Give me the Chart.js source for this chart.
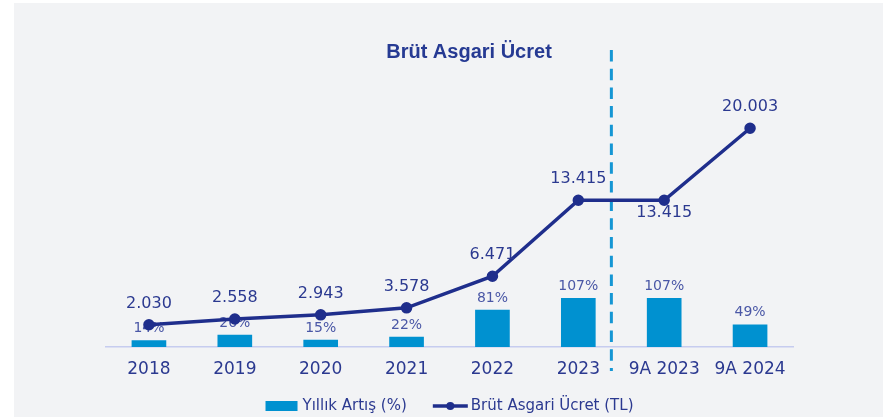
<!DOCTYPE html>
<html>
<head>
<meta charset="utf-8">
<script src="https://cdn.jsdelivr.net/npm/chart.js@4/dist/chart.umd.min.js"></script>
<style>
  html, body { margin: 0; padding: 0; background: #ffffff; }
  #wrap { position: relative; width: 886px; height: 417px; overflow: hidden; }
  #panel { position: absolute; left: 14px; top: 3px; width: 869px; height: 414px; background: #f2f3f5; }
  #c { position: absolute; left: 0; top: 0; }
</style>
</head>
<body>
<div id="wrap">
  <div id="panel"></div>
  <canvas id="c" width="886" height="417"></canvas>
</div>
<script>
const categories = ['2018', '2019', '2020', '2021', '2022', '2023', '9A 2023', '9A 2024'];
const wageTL = [2030, 2558, 2943, 3578, 6471, 13415, 13415, 20003];
const yearlyIncrease = [14, 26, 15, 22, 81, 107, 107, 49];
const seriesNames = ['Yıllık Artış (%)', 'Brüt Asgari Ücret (TL)'];
const chartTitle = 'Brüt Asgari Ücret';

const BAR_COLOR = '#0091d0';
const LINE_COLOR = '#1f2e8c';
const TEXT_DARK = '#2b3990';
const TEXT_LIGHT = '#4a57a6';
const FONT = '"DejaVu Sans", sans-serif';

function fmtTR(n) {
  return String(n).replace(/\B(?=(\d{3})+(?!\d))/g, '.');
}

const overlay = {
  id: 'overlay',
  beforeDatasetsDraw(chart) {
    const ctx = chart.ctx;
    const xs = chart.scales.x;
    const a = xs.getPixelForValue(5), b = xs.getPixelForValue(6);
    const px = a + (b - a) * 0.385;
    ctx.save();
    ctx.strokeStyle = '#1596d4';
    ctx.lineWidth = 3;
    ctx.setLineDash([11.5, 7.2]);
    ctx.beginPath();
    ctx.moveTo(px, 50);
    ctx.lineTo(px, 371);
    ctx.stroke();
    ctx.restore();
  },
  afterDatasetDraw(chart, args) {
    if (args.index !== 0) return;
    const ctx = chart.ctx;
    ctx.save();
    ctx.font = '14px ' + FONT;
    ctx.fillStyle = TEXT_LIGHT;
    ctx.textAlign = 'center';
    ctx.textBaseline = 'middle';
    args.meta.data.forEach((el, i) => {
      ctx.fillText(yearlyIncrease[i] + '%', el.x, el.y - 12);
    });
    ctx.restore();
  },
  afterDatasetsDraw(chart) {
    const ctx = chart.ctx;
    const meta = chart.getDatasetMeta(1);
    ctx.save();
    ctx.font = '16px ' + FONT;
    ctx.fillStyle = TEXT_DARK;
    ctx.textAlign = 'center';
    ctx.textBaseline = 'middle';
    meta.data.forEach((pt, i) => {
      const below = (i === 6);
      ctx.fillText(fmtTR(wageTL[i]), pt.x, below ? pt.y + 13 : pt.y - 21);
    });
    ctx.restore();
  },
  afterDraw(chart) {
    const ctx = chart.ctx;
    const ca = chart.chartArea;
    ctx.save();
    ctx.font = 'bold 20px "Liberation Sans", Arial, sans-serif';
    ctx.fillStyle = '#263a93';
    ctx.textAlign = 'center';
    ctx.textBaseline = 'middle';
    ctx.fillText(chartTitle, 469, 52);
    ctx.font = '15px ' + FONT;
    const w1 = ctx.measureText(seriesNames[0]).width;
    const w2 = ctx.measureText(seriesNames[1]).width;
    const boxW = 32, gap1 = 5, gapMid = 26, lineW = 35, gap2 = 3;
    const total = boxW + gap1 + w1 + gapMid + lineW + gap2 + w2;
    let x = (ca.left + ca.right) / 2 - total / 2;
    const y = 406;
    ctx.fillStyle = BAR_COLOR;
    ctx.fillRect(x, y - 5, boxW, 10);
    x += boxW + gap1;
    ctx.fillStyle = TEXT_DARK;
    ctx.textAlign = 'left';
    ctx.fillText(seriesNames[0], x, y);
    x += w1 + gapMid;
    ctx.strokeStyle = LINE_COLOR;
    ctx.lineWidth = 3.5;
    ctx.beginPath();
    ctx.moveTo(x, y);
    ctx.lineTo(x + lineW, y);
    ctx.stroke();
    ctx.fillStyle = LINE_COLOR;
    ctx.beginPath();
    ctx.arc(x + lineW / 2, y, 4, 0, Math.PI * 2);
    ctx.fill();
    x += lineW + gap2;
    ctx.fillStyle = TEXT_DARK;
    ctx.fillText(seriesNames[1], x, y);
    ctx.restore();
  }
};

new Chart(document.getElementById('c'), {
  data: {
    labels: categories,
    datasets: [
      {
        type: 'bar',
        label: seriesNames[0],
        data: yearlyIncrease,
        backgroundColor: BAR_COLOR,
        barThickness: 34,
        yAxisID: 'yBar',
        order: 1
      },
      {
        type: 'line',
        label: seriesNames[1],
        data: wageTL,
        borderColor: LINE_COLOR,
        backgroundColor: LINE_COLOR,
        borderWidth: 3.5,
        pointRadius: 4,
        pointHoverRadius: 4,
        tension: 0,
        yAxisID: 'yLine',
        order: 0
      }
    ]
  },
  options: {
    responsive: false,
    animation: false,
    layout: { padding: { left: 106, right: 93, top: 56, bottom: 25.6 } },
    plugins: {
      legend: { display: false },
      title: { display: false },
      tooltip: { enabled: false }
    },
    scales: {
      x: {
        offset: true,
        grid: { display: false, drawTicks: false },
        border: { display: true, color: '#c6ccef', width: 1.5 },
        ticks: { color: TEXT_DARK, font: { family: FONT, size: 17 }, padding: 12, maxRotation: 0, autoSkip: false }
      },
      yBar: { display: false, min: 0, max: 640 },
      yLine: { display: false, min: 0, max: 26606 }
    }
  },
  plugins: [overlay]
});
</script>
</body>
</html>
